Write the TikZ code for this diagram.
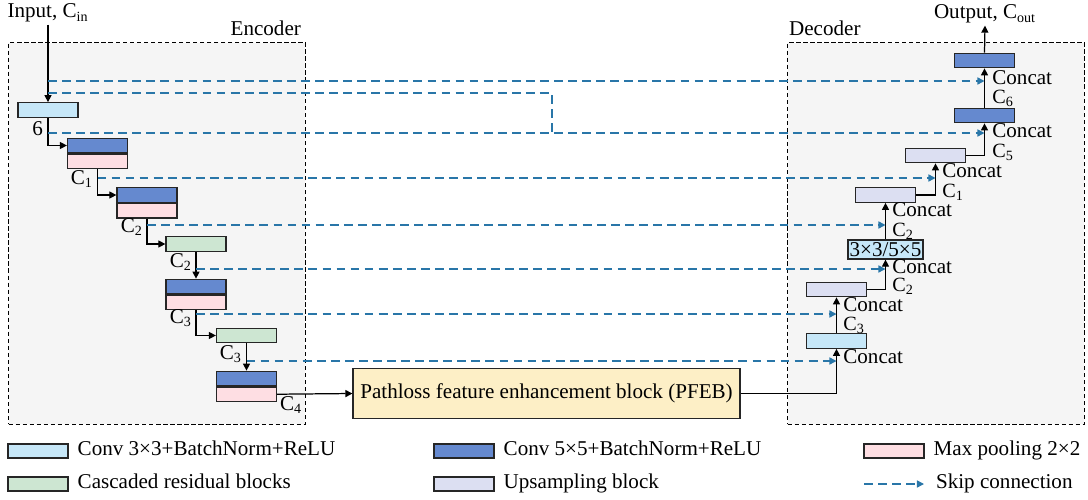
\documentclass[tikz,border=0pt]{standalone}
\usepackage{fontspec}
\setmainfont{Liberation Serif}
\usepackage{tikz}
\usetikzlibrary{positioning, arrows.meta, calc}

\definecolor{convA}{HTML}{C6E7F8}
\definecolor{convB}{HTML}{6589CF}
\definecolor{poolC}{HTML}{FEDEE3}
\definecolor{resC}{HTML}{CDE6D2}
\definecolor{upC}{HTML}{DCDFF2}
\definecolor{pfebC}{HTML}{FDEFC6}
\definecolor{skipC}{RGB}{41,118,168}
\definecolor{regionC}{HTML}{F5F5F5}

\newcommand{\chan}[1]{C\textsubscript{#1}}

\begin{document}
\begin{tikzpicture}[
    x=0.02cm, y=-0.02cm,
    font=\fontsize{12}{14}\selectfont,
    blk/.style={draw=black!85, line width=0.7pt, rectangle, minimum width=1.2cm, minimum height=0.29cm, inner sep=0pt},
    conva/.style={blk, fill=convA},
    convb/.style={blk, fill=convB},
    pool/.style={blk, fill=poolC},
    res/.style={blk, fill=resC},
    up/.style={blk, fill=upC},
    pfeb/.style={blk, fill=pfebC, minimum width=7.74cm, minimum height=1cm},
    region/.style={draw=black, fill=regionC, line width=0.6pt, dash pattern=on 2.5pt off 1.5pt, minimum width=5.94cm, minimum height=7.64cm, anchor=north west},
    flow/.style={line width=0.7pt, -{Triangle[length=4pt,width=4pt]}},
    skip/.style={skipC, line width=0.8pt, dash pattern=on 5pt off 3pt, -{Triangle[length=4pt,width=4pt]}},
    varlabel/.style={inner sep=1pt},
    catlabel/.style={inner sep=0pt, anchor=west, text height=0.64em, text depth=0pt},
    chanlabel/.style={catlabel, text depth=0.16em, font=\fontsize{11.5}{13}\selectfont},
    legtext/.style={inner sep=1pt, text height=0.68em, text depth=0.22em}
]
\useasboundingbox (0,0) rectangle (1088,500);

% regions
\node[region] (enc) at (8,42) {};
\node[region] (dec) at (787,42) {};
\node[varlabel, anchor=base east] (enclabel) at (303,36) {Encoder};
\node[varlabel, anchor=base west] (declabel) at (787,36) {Decoder};

% encoder
\node[varlabel, anchor=base] (input) at (48,18) {Input, \chan{in}};
\node[conva] (e1) at (48,110) {};
\node[convb] (e2) at (97.5,145.5) {};
\node[pool, below=0pt of e2] (p2) {};
\node[convb] (e3) at (147,195) {};
\node[pool, below=0pt of e3] (p3) {};
\node[res] (e4) at (196,244) {};
\node[convb] (e5) at (196,286.5) {};
\node[pool, below=0pt of e5] (p5) {};
\node[res] (e6) at (246.5,335.5) {};
\node[convb] (e7) at (246.5,378.5) {};
\node[pool, below=0pt of e7] (p7) {};

\node[pfeb] (pfeb) at (546.5,393.5) {Pathloss feature enhancement block (PFEB)};

% decoder
\node[varlabel, anchor=base] (output) at (985,19) {Output, \chan{out}};
\node[convb] (d1) at (984.5,60.5) {};
\node[convb] (d2) at (984.5,115.5) {};
\node[up] (d3) at (935.5,155.5) {};
\node[up] (d4) at (885.5,195) {};
\node[conva, minimum width=1.5cm, minimum height=0.38cm] (d5) at (885.5,249.5) {3×3/5×5};
\node[up] (d6) at (836.5,289.5) {};
\node[conva] (d7) at (836.5,341) {};

% encoder edges
\draw[flow] (input.south) -- (e1.north);
\draw[flow] (e1.south) |- (e2.west);
\draw[flow] (p2.south) |- (e3.west);
\draw[flow] (p3.south) |- (e4.west);
\draw[flow] (e4.south) -- (e5.north);
\draw[flow] (p5.south) |- (e6.west);
\draw[flow] (e6.south) -- (e7.north);
\draw[flow] (p7.east) -- (pfeb.west);

% decoder edges
\draw[flow] (pfeb.east) -| (d7.south);
\draw[flow] (d7.north) -- (d6.south);
\draw[flow] (d6.east) -| (d5.south);
\draw[flow] (d5.north) -- (d4.south);
\draw[flow] (d4.east) -| (d3.south);
\draw[flow] (d3.east) -| (d2.south);
\draw[flow] (d2.north) -- (d1.south);
\draw[flow] (d1.north) -- (output.south);

% encoder labels
\node[varlabel, anchor=east] (l6) at (45,129) {6};
\node[varlabel, anchor=east] (lc1) at (95,179) {\chan{1}};
\node[varlabel, anchor=east] (lc2) at (145,227) {\chan{2}};
\node[varlabel, anchor=east] (lc2b) at (194,262) {\chan{2}};
\node[varlabel, anchor=east] (lc3) at (194,318) {\chan{3}};
\node[varlabel, anchor=east] (lc3b) at (244,354) {\chan{3}};
\node[varlabel, anchor=west] (lc4) at (278,405) {\chan{4}};

% decoder labels
\node[catlabel] (cc1) at (992,79) {Concat};
\node[chanlabel] (lc6) at (992,99) {\chan{6}};
\node[catlabel] (cc2) at (992,132) {Concat};
\node[chanlabel] (lc5) at (992,153) {\chan{5}};
\node[catlabel] (cc3) at (942,172) {Concat};
\node[chanlabel] (lc1d) at (942,193) {\chan{1}};
\node[catlabel] (cc4) at (892,211) {Concat};
\node[chanlabel] (lc2d) at (892,232) {\chan{2}};
\node[catlabel] (cc5) at (892,268) {Concat};
\node[chanlabel] (lc2e) at (892,287) {\chan{2}};
\node[catlabel] (cc6) at (843,306) {Concat};
\node[chanlabel] (lc3d) at (843,326) {\chan{3}};
\node[catlabel] (cc7) at (843,358) {Concat};

% skip connections
\coordinate (k1) at (48,81);
\coordinate (k2) at (48,93);
\coordinate (kj) at (552,133);
\coordinate (k3) at (48,133);
\coordinate (k4) at (97.5,178);
\coordinate (k5) at (147,225);
\coordinate (k6) at (196,269);
\coordinate (k7) at (196,314);
\coordinate (k8) at (246.5,361);
\draw[skip] (k1) -- (k1 -| d1.south);
\draw[skip, -] (k2) -| (kj);
\draw[skip] (k3) -- (k3 -| d2.south);
\draw[skip] (k4) -- (k4 -| d3.south);
\draw[skip] (k5) -- (k5 -| d4.south);
\draw[skip] (k6) -- (k6 -| d5.south);
\draw[skip] (k7) -- (k7 -| d6.south);
\draw[skip] (k8) -- (k8 -| d7.south);

% legend
\node[conva, minimum height=0.28cm] (lg1) at (38,451) {};
\node[legtext, right=0.14cm of lg1] (lt1) {Conv 3×3+BatchNorm+ReLU};
\node[res, minimum height=0.28cm] (lg2) at (38,484) {};
\node[legtext, right=0.14cm of lg2] (lt2) {Cascaded residual blocks};
\node[convb, minimum height=0.28cm] (lg3) at (464,451) {};
\node[legtext, right=0.14cm of lg3] (lt3) {Conv 5×5+BatchNorm+ReLU};
\node[up, minimum height=0.28cm] (lg4) at (464,484) {};
\node[legtext, right=0.14cm of lg4] (lt4) {Upsampling block};
\node[pool, minimum height=0.28cm] (lg5) at (894,451) {};
\node[legtext, right=0.14cm of lg5] (lt5) {Max pooling 2×2};
\coordinate (ls0) at (864,484);
\coordinate (ls1) at (924,484);
\draw[skip] (ls0) -- (ls1);
\node[legtext, anchor=west] (lt6) at (934,484) {Skip connection};

\end{tikzpicture}
\end{document}
